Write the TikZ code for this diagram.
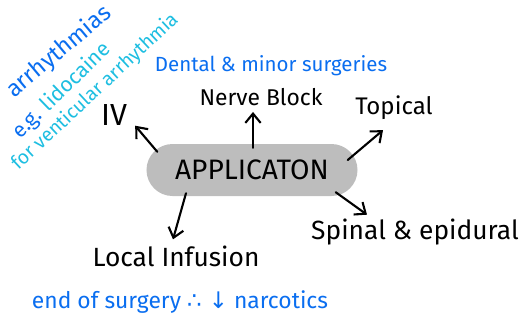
\documentclass[tikz,border=0pt]{standalone}
\usepackage{xcolor}
\usepackage{fontspec}
\setmainfont{Fira Sans}
\newfontfamily\symfont{DejaVu Sans}
\usepackage{tikz}
\usetikzlibrary{arrows.meta,positioning}
\definecolor{noteblue}{RGB}{10,110,240}
\definecolor{notecyan}{RGB}{30,190,225}
\definecolor{pillgray}{RGB}{189,189,189}

\begin{document}
\begin{tikzpicture}[
			x=0.03cm, y=0.03cm,
			>={Straight Barb[length=2.8mm,width=4.6mm,line width=1.8pt]},
			app/.style={fill=pillgray, rounded corners=0.78cm, minimum width=6.33cm, minimum height=1.56cm, font=\fontsize{24}{24}\selectfont},
			lbl/.style={inner sep=0pt, font=\fontsize{20}{20}\selectfont},
			note/.style={inner sep=0pt, text=noteblue, font=\fontsize{17.5}{17.5}\selectfont},
			side/.style={inner sep=0pt, font=\fontsize{18}{18}\selectfont},
			flow/.style={->, line width=1.8pt, line cap=round}
			]
			\useasboundingbox (0,0) rectangle (527,-323);
			\node[app] (app) at (252,-170) {APPLICATON};
			\node[lbl, font=\fontsize{26}{26}\selectfont] (iv) at (114,-115) {IV};
			\node[lbl, font=\fontsize{19.5}{19.5}\selectfont] (nerve) at (261,-97) {Nerve Block};
			\node[lbl, font=\fontsize{20.5}{20.5}\selectfont] (topical) at (394,-108) {Topical};
			\node[lbl, font=\fontsize{22.5}{22.5}\selectfont] (local) at (176,-256) {Local Infusion};
			\node[lbl, font=\fontsize{22.5}{22.5}\selectfont] (spinal) at (415,-232) {Spinal \& epidural};
			
			\node[note] (dental) at (271,-66) {Dental \& minor surgeries};
			\node[note, font=\fontsize{19.5}{19.5}\selectfont] (endsurg) at (180,-302) {end of surgery {\symfont ∴ ↓} narcotics};
			\node[side, text=noteblue, rotate=40, font=\fontsize{20}{20}\selectfont] (arrhy) at (59,-52) {arrhythmias};
			\node[side, text=notecyan, rotate=44] (lido) at (62,-91) {{\color{noteblue}e.g.} lidocaine};
			\node[side, text=notecyan, rotate=43, font=\fontsize{16.5}{16.5}\selectfont] (vent) at (95,-92) {for venticular arrhythmia};
			
			\draw[flow] ([shift={(11,-8)}]app.north west) -- ([shift={(8,0)}]iv.south east);
			\draw[flow] ([shift={(1,-4)}]app.north) -- ([shift={(-8,-6)}]nerve.south);
			\draw[flow] ([shift={(-10,10)}]app.east) -- ([shift={(-11,-10)}]topical.south);
			\draw[flow] ([shift={(-66,3)}]app.south) -- ([shift={(-3,6)}]local.north);
			\draw[flow] ([shift={(-22,4)}]app.south east) -- ([shift={(-48,4)}]spinal.north);
		\end{tikzpicture}
\end{document}
